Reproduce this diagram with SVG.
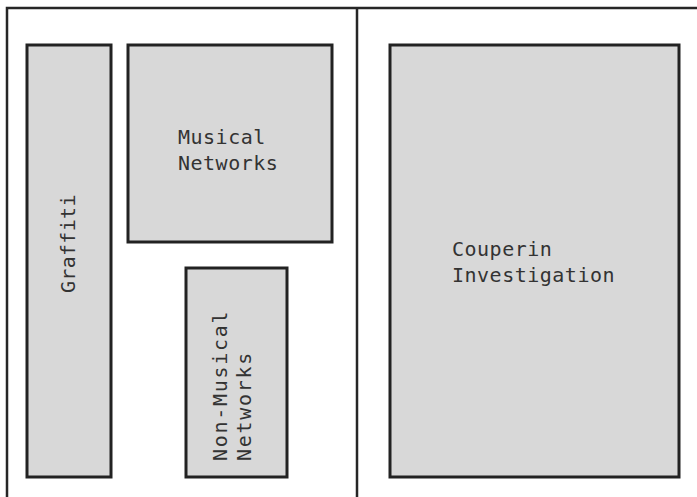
<svg xmlns="http://www.w3.org/2000/svg" width="697" height="497" viewBox="0 0 697 497">
  <style>
    .frame { fill: none; stroke: #262626; stroke-width: 2.5; }
    .box { fill: #d8d8d8; stroke: #222222; stroke-width: 3; }
    .lbl { font-family: "DejaVu Sans Mono", "Liberation Mono", monospace; font-size: 20px; fill: #333333; letter-spacing: 0.5px; }
    .vlbl { letter-spacing: 1.7px; }
  </style>
  <rect width="697" height="497" fill="#ffffff"/>
  <g id="frame">
    <path class="frame" d="M7,497 V8 H697 M357,8 V497"/>
  </g>
  <g id="connectors"/>
  <g id="graffiti">
    <rect class="box" x="27" y="45" width="84" height="432"/>
    <text class="lbl" style="letter-spacing:0.3px" transform="translate(75,293) rotate(-90)">Graffiti</text>
  </g>
  <g id="musical-networks">
    <rect class="box" x="128" y="45" width="204" height="197"/>
    <text class="lbl" x="178" y="144">Musical</text>
    <text class="lbl" x="178" y="170">Networks</text>
  </g>
  <g id="non-musical-networks">
    <rect class="box" x="186" y="268" width="101" height="209"/>
    <text class="lbl vlbl" transform="translate(227,461) rotate(-90)">Non-Musical</text>
    <text class="lbl vlbl" transform="translate(251,461) rotate(-90)">Networks</text>
  </g>
  <g id="couperin-investigation">
    <rect class="box" x="390" y="45" width="289" height="432"/>
    <text class="lbl" x="452" y="256">Couperin</text>
    <text class="lbl" x="452" y="282">Investigation</text>
  </g>
</svg>
